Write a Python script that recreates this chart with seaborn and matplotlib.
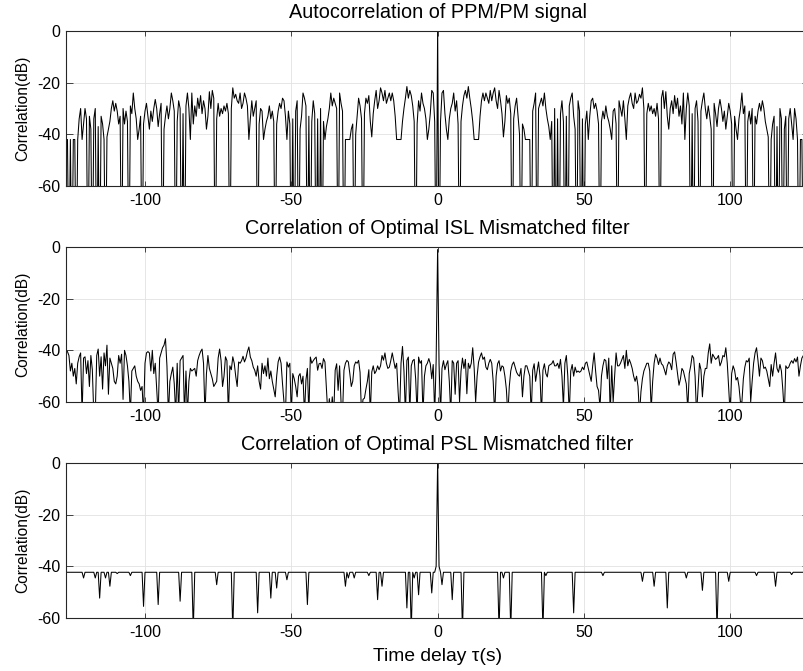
import numpy as np
import pandas as pd
import matplotlib
matplotlib.use("Agg")
import matplotlib.pyplot as plt
import seaborn as sns

# ---------------- data ----------------
tau_start, tau_stop, tau_step = -127.0, 127.0, 0.5
tau = np.arange(tau_start, tau_stop + tau_step / 2, tau_step)

# Autocorrelation of PPM/PM signal (dB); |R(tau)| is symmetric, positive half read
acf_peak_db = 0.0
acf_pos_db = [
    -100, -35, -24, -23, -32, -38, -42, -34, -30, -28,
    -24, -31, -27, -36, -100, -35, -29, -25, -23, -26,
    -21.5, -26, -30, -35, -42, -42, -42, -42, -33, -27,
    -24, -27, -24, -26, -28, -23, -27, -24, -22, -27,
    -30, -23, -27, -32, -41, -35, -25, -28, -26, -32,
    -100, -34, -29, -26, -33, -40, -100, -36, -38, -42,
    -42, -42, -42, -100, -31, -28, -24, -100, -30, -28,
    -26, -29, -24, -30, -34, -37, -42, -35, -100, -30,
    -100, -34, -100, -32, -27, -35, -100, -33, -100, -29,
    -26, -24, -33, -38, -100, -27, -31, -100, -34, -100,
    -36, -31, -42, -33, -27, -26, -30, -28, -31, -36,
    -100, -35, -31, -34, -29, -33, -35, -38, -42, -31,
    -30, -36, -100, -27, -30, -33, -27, -34, -42, -29,
    -26, -24, -28, -30, -24, -28, -27, -24.5, -26, -22,
    -30, -100, -32, -28, -31, -29, -32, -30, -33, -28,
    -34, -100, -26, -23, -30, -23.5, -33, -38, -30, -27,
    -32, -25, -30, -26, -33, -29, -36, -24, -42, -30,
    -24, -29, -100, -32, -100, -30, -27, -35, -100, -31,
    -27, -24, -30, -34, -29, -33, -38, -100, -28, -32,
    -37, -30, -26.5, -30, -35, -31, -38, -33, -28, -31,
    -36, -100, -33, -38, -42, -34, -30, -24, -32, -29,
    -100, -35, -31, -36, -30, -100, -33, -36, -31, -28,
    -31, -27, -30, -35, -38, -41, -100, -42, -36, -33,
    -100, -37, -100, -30, -34, -100, -38, -33, -100, -34,
    -30, -36, -42, -30, -34, -42, -100, -42, -42, -100,
    -42, -100, -42, -42,
]

# Correlation of optimal ISL mismatched filter (dB), tau = -127 ... 127
isl_db = [
    -40, -40.5, -42, -48, -45, -50, -47, -53, -45, -42.5, -41, -65, -43, -42.5,
    -49, -44, -54, -42, -47.5, -65, -65, -42, -39.5, -50, -42.5, -55, -41, -46, -38, -57, -43, -45, -47, -52,
    -53, -50, -42, -45, -41.5, -59, -40, -42, -46, -52, -65, -48, -47, -46, -50, -52, -53, -55.5, -54, -65,
    -45, -41, -40.5, -41, -48, -40, -49, -45, -55, -65, -43, -41, -39, -38, -35.5, -46, -65, -52, -49, -46.5,
    -53, -65, -45, -65, -44, -43, -42, -65, -48, -65, -52, -47, -48, -47.5, -47, -50, -44, -42, -40.5, -39.5,
    -45, -65, -49, -42, -47, -49, -51, -54, -53, -52, -43, -39.5, -44, -54, -50, -42.5, -44, -65, -46, -47.5,
    -42.5, -45, -50, -54, -44.5, -45, -44, -42.3, -44.5, -43, -40.5, -38.7, -42.6, -44, -46.5, -47.7, -50, -46, -52, -55,
    -45, -49, -46, -50, -43, -51, -48, -52, -55, -58, -50, -44.5, -42.6, -45, -53, -60, -65, -44.5, -46.5, -45,
    -65, -49, -51, -54, -58, -50, -49, -53, -50, -65, -51.5, -47, -65, -42.6, -45, -44, -43.2, -42.6, -47.7, -45.2,
    -45, -47, -43.2, -44.5, -55, -65, -58.7, -65, -58, -65, -47.7, -45.2, -55.5, -46, -60, -65, -47.7, -45, -43.9, -44.5,
    -49, -54, -52, -46, -44.5, -45, -43.9, -48.5, -65, -59, -58.5, -55, -52, -47.5, -65, -48.4, -46, -49, -48, -46,
    -47.5, -46, -42, -43.8, -41, -45, -47, -46.5, -44, -41, -44, -47, -45, -56, -65, -45, -38.5, -48, -65, -43.9,
    -42.6, -65, -46, -44, -43.5, -51, -65, -42.6, -45, -44, -65, -50, -46, -45, -43.2, -45.2, -51, -45.5, -65, -44,
    -1,
    -45, -65, -47, -44, -47.5, -45.5, -44, -52, -65, -44, -45, -57, -45, -44, -60, -48, -43, -47, -43.5, -56.8,
    -45, -47, -45, -39, -47, -60, -50, -44.5, -42.5, -41, -43.5, -42.6, -46.5, -47.5, -45, -43.5, -45, -52, -65, -50,
    -45.2, -44, -48, -46, -46.5, -50, -55, -65, -54, -48, -45.5, -44.5, -46.5, -48.5, -49.5, -50, -47, -58, -50, -46,
    -46, -48, -50, -65, -47.7, -45.2, -52, -48, -44.5, -50, -65, -47.7, -45.2, -49, -50.3, -46, -45.5, -45.2, -44, -46,
    -46, -45, -47, -43.5, -50, -62, -45, -42, -50, -65, -48, -45.5, -50, -46.5, -48.5, -48, -48.5, -48, -46.5, -47.5,
    -45, -44.5, -47, -49.5, -52, -46, -41, -48, -54, -55.5, -62, -50, -46, -43.5, -44, -51, -43, -65, -46, -60,
    -50, -41, -46, -46, -45, -43.5, -42, -47, -40, -46, -43.5, -45, -47, -50, -52, -50, -54, -65, -56, -51,
    -48, -46.5, -45, -45, -48, -63, -52, -45, -41.5, -43, -45.5, -43, -45.2, -45.8, -47.5, -49.5, -46, -44.5, -45.2, -47.5,
    -41.5, -40.6, -44.5, -49, -53.5, -51, -47, -48, -50.5, -53, -63, -49, -46, -42, -43, -50, -65, -55, -45, -47.5,
    -58, -50, -47, -47, -41, -37.5, -45, -41.5, -42.5, -43.5, -43, -42, -46, -44.5, -42, -42.5, -39, -45, -55, -65,
    -49, -46, -47.7, -51.5, -50.5, -54, -60, -60, -51, -46.5, -44, -44.5, -43, -60, -52, -45, -41, -39, -44, -50,
    -43, -44, -47, -46.5, -48, -51, -54, -45.5, -50, -45, -41, -47, -48.5, -45.5, -48, -55.5, -65, -46, -47, -46.5,
    -45, -44, -45, -43.2, -44.5, -42.6, -50, -46, -43, -42, -42.6, -44, -43, -45,
]

# Correlation of optimal PSL mismatched filter: flat sidelobe floor with dips
psl_floor_db = -42.3
psl_peak_db = 0.0
psl_dip_tau = [-121, -117, -115.5, -113.5, -112, -109.5, -105, -100.5, -95.5, -88,
               -83.5, -75.5, -70, -61.5, -57, -55, -51.5, -44.5, -31.5, -30.5,
               -28.5, -23.5, -20.5, -19, -10.5, -9, -8, -6.5, -2, -0.5,
               0.5, 1.5, 5, 8.5, 21, 22.5, 25, 36, 37, 46.5,
               56.5, 70, 74, 78.5, 85, 90.5, 95.5, 99.5, 109, 115.5, 121]
psl_dip_db = [-44.5, -44.5, -52.3, -44.5, -47.7, -42.8, -43.6, -55.5, -54.8, -53.5,
              -65, -47.1, -65, -58, -52.3, -48.4, -45.2, -54.8, -47.7, -44.5,
              -44.5, -43.6, -52.9, -47.7, -56.1, -65, -44.5, -51, -50.3, -40,
              -40, -47.1, -52.9, -65, -65, -44.5, -65, -65, -43.6, -58,
              -43.6, -45.8, -47.7, -56.1, -44.5, -49.3, -65, -45.8, -43.6, -47.7, -43.2]

titles = ["Autocorrelation of PPM/PM signal",
          "Correlation of Optimal ISL Mismatched filter",
          "Correlation of Optimal PSL Mismatched filter"]
ylabel_text = "Correlation(dB)"
xlabel_text = "Time delay \u03c4(s)"
xticks = [-100, -50, 0, 50, 100]
yticks = [0, -20, -40, -60]

# ---------------- build table ----------------
acf_db = acf_pos_db[::-1] + [acf_peak_db] + acf_pos_db
psl_db = np.full(tau.size, psl_floor_db)
dip_idx = np.round((np.array(psl_dip_tau) - tau_start) / tau_step).astype(int)
psl_db[dip_idx] = psl_dip_db
psl_db[int(round((0 - tau_start) / tau_step))] = psl_peak_db

df = pd.DataFrame({"tau": tau, "acf": acf_db, "isl": isl_db, "psl": psl_db})

# ---------------- style ----------------
sns.set_theme(style="white")
plt.rcParams["font.family"] = ["Liberation Sans", "DejaVu Sans"]
plt.rcParams["axes.unicode_minus"] = False

W, H = 804, 671
fig = plt.figure(figsize=(W / 100, H / 100), dpi=100)
left_px, width_px = 66, 254 * 2.926
tops_px = [31, 247, 463]
height_px = 155
spine_col = "#262626"

for i, col in enumerate(["acf", "isl", "psl"]):
    top = tops_px[i]
    ax = fig.add_axes([left_px / W, (H - top - height_px) / H, width_px / W, height_px / H])
    sns.lineplot(data=df, x="tau", y=col, ax=ax, color="black", linewidth=0.75,
                 estimator=None, errorbar=None)
    ax.set_xlim(tau_start, tau_stop)
    ax.set_ylim(-60, 0)
    ax.set_xticks(xticks)
    ax.set_yticks(yticks)
    ax.grid(True, color="#e2e2e2", linewidth=0.6)
    ax.set_axisbelow(True)
    for s in ax.spines.values():
        s.set_color(spine_col)
        s.set_linewidth(0.8)
    ax.tick_params(axis="x", direction="in", length=3.6, width=0.6, top=True, bottom=True,
                   labelsize=11.5, pad=5, color=spine_col, labelcolor="black")
    ax.tick_params(axis="y", direction="in", length=5, width=0.6, left=True, right=True,
                   labelsize=11.5, pad=4, color=spine_col, labelcolor="black")
    ax.set_title(titles[i], fontsize=14.3, pad=9, color="black")
    ax.set_ylabel(ylabel_text, fontsize=11.2, labelpad=5, color="black")
    if i == 2:
        ax.set_xlabel(xlabel_text, fontsize=13.9, labelpad=6, color="black")
    else:
        ax.set_xlabel("")

fig.savefig("out.png", dpi=100)
